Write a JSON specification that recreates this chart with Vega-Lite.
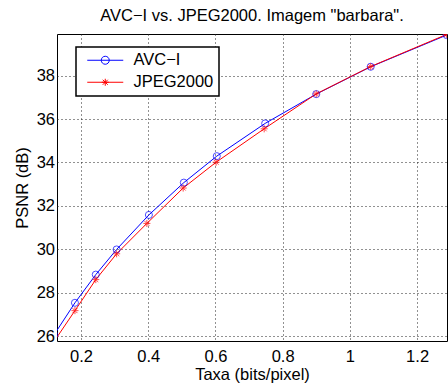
{
  "$schema": "https://vega.github.io/schema/vega-lite/v6.json",
  "width": 390,
  "height": 307,
  "autosize": {"type": "none"},
  "padding": {"left": 57, "top": 34, "right": 1, "bottom": 47},
  "background": "white",
  "title": {"text": "AVC−I vs. JPEG2000. Imagem \"barbara\".", "fontSize": 16.5, "font": "Liberation Sans", "fontWeight": "normal", "color": "black", "offset": 10, "anchor": "middle"},
  "config": {
    "view": {"stroke": "black", "strokeWidth": 1},
    "font": "Liberation Sans",
    "axis": {
      "domain": false, "grid": true, "gridColor": "#222222", "gridDash": [1, 3], "gridWidth": 1,
      "ticks": false, "tickSize": 0,
      "labelFont": "Liberation Sans", "labelFontSize": 16.5, "labelColor": "black",
      "titleFont": "Liberation Sans", "titleFontSize": 16.5, "titleFontWeight": "normal", "titleColor": "black"
    }
  },
  "data": {"values": [
    {"method": "AVC−I", "rate": 0.12, "psnr": 26.06},
    {"method": "AVC−I", "rate": 0.182, "psnr": 27.53},
    {"method": "AVC−I", "rate": 0.244, "psnr": 28.83},
    {"method": "AVC−I", "rate": 0.306, "psnr": 29.99},
    {"method": "AVC−I", "rate": 0.402, "psnr": 31.58},
    {"method": "AVC−I", "rate": 0.506, "psnr": 33.07},
    {"method": "AVC−I", "rate": 0.604, "psnr": 34.29},
    {"method": "AVC−I", "rate": 0.748, "psnr": 35.80},
    {"method": "AVC−I", "rate": 0.900, "psnr": 37.15},
    {"method": "AVC−I", "rate": 1.062, "psnr": 38.41},
    {"method": "AVC−I", "rate": 1.288, "psnr": 39.87},
    {"method": "JPEG2000", "rate": 0.12, "psnr": 25.75},
    {"method": "JPEG2000", "rate": 0.182, "psnr": 27.17},
    {"method": "JPEG2000", "rate": 0.244, "psnr": 28.60},
    {"method": "JPEG2000", "rate": 0.306, "psnr": 29.79},
    {"method": "JPEG2000", "rate": 0.396, "psnr": 31.19},
    {"method": "JPEG2000", "rate": 0.504, "psnr": 32.82},
    {"method": "JPEG2000", "rate": 0.602, "psnr": 34.01},
    {"method": "JPEG2000", "rate": 0.745, "psnr": 35.55},
    {"method": "JPEG2000", "rate": 0.900, "psnr": 37.16},
    {"method": "JPEG2000", "rate": 1.062, "psnr": 38.42},
    {"method": "JPEG2000", "rate": 1.288, "psnr": 39.90}
  ]},
  "encoding": {
    "x": {"field": "rate", "type": "quantitative",
      "scale": {"domain": [0.1286, 1.289], "nice": false, "zero": false},
      "axis": {"values": [0.2, 0.4, 0.6, 0.8, 1, 1.2], "format": "~g", "title": "Taxa (bits/pixel)", "labelPadding": 7, "titlePadding": 2}},
    "y": {"field": "psnr", "type": "quantitative",
      "scale": {"domain": [25.77, 39.92], "nice": false, "zero": false},
      "axis": {"values": [26, 28, 30, 32, 34, 36, 38], "title": "PSNR (dB)", "labelPadding": 2.5, "titlePadding": 5.5}}
  },
  "layer": [
    {
      "mark": {"type": "line", "strokeWidth": 1, "clip": true},
      "encoding": {
        "color": {"field": "method", "type": "nominal",
          "scale": {"domain": ["AVC−I", "JPEG2000"], "range": ["#0000ff", "#ff0000"]},
          "legend": {
            "orient": "none", "legendX": 19, "legendY": 13, "title": null,
            "fillColor": "white", "strokeColor": "black", "padding": 5,
            "symbolSize": 100, "symbolStrokeWidth": 1, "symbolOffset": 16, "labelOffset": 20,
            "labelFont": "Liberation Sans", "labelFontSize": 16.5, "labelColor": "black", "rowPadding": 5,
            "encode": {
              "legend": {"update": {"strokeWidth": {"value": 1.5}}},
              "symbols": {"update": {
                "shape": {"signal": "datum.value === 'AVC−I' ? 'M-3.6,0L3.6,0M0.8,0A0.8,0.8 0 1,1 -0.8,0A0.8,0.8 0 1,1 0.8,0' : 'M-3.6,0L3.6,0M-0.7,0L0.7,0M0,-0.7L0,0.7M-0.5,-0.5L0.5,0.5M-0.5,0.5L0.5,-0.5'"},
                "fill": {"value": "transparent"},
                "strokeWidth": {"value": 1}
              }}
            }
          }}
      }
    },
    {
      "transform": [{"filter": "datum.method === 'AVC−I'"}],
      "mark": {"type": "point", "shape": "circle", "filled": false, "clip": true, "strokeWidth": 1, "size": 50, "color": "#0000ff"}
    },
    {
      "transform": [{"filter": "datum.method === 'JPEG2000'"}],
      "mark": {"type": "point", "shape": "M-1,0L1,0M0,-1L0,1M-0.7,-0.7L0.7,0.7M-0.7,0.7L0.7,-0.7", "filled": false, "clip": true, "strokeWidth": 1, "size": 50, "color": "#ff0000"}
    }
  ]
}
